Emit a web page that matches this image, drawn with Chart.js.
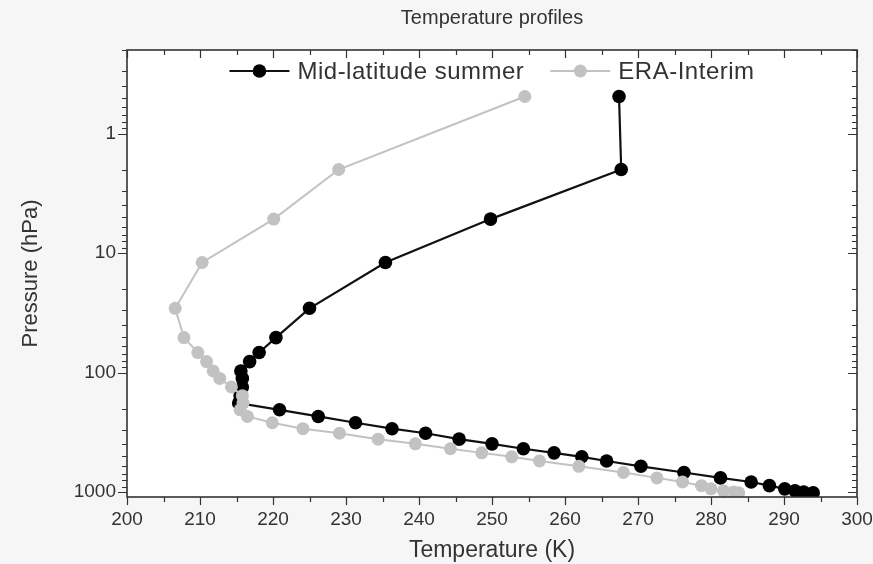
<!DOCTYPE html>
<html>
<head>
<meta charset="utf-8">
<script src="https://cdn.jsdelivr.net/npm/chart.js@4/dist/chart.umd.min.js"></script>
<style>
  html, body { margin: 0; padding: 0; background: #f6f6f6; }
</style>
</head>
<body>
<canvas id="profileChart" width="873" height="564"></canvas>
<script>
// pressure levels (hPa), shared by both profiles
const pressureLevels = [0.49, 2, 5.2, 12, 29, 51, 68, 81, 97, 112, 132, 156, 180, 205, 233, 263, 295, 322, 361, 395,
                        434, 470, 507, 550, 609, 686, 761, 824, 884, 940, 975, 998, 1013];

// temperature (K)
const midLatSummer = [267.4, 267.7, 249.8, 235.4, 225.0, 220.4, 218.1, 216.8, 215.6, 215.8, 215.8, 215.5, 215.3, 220.9,
                      226.2, 231.3, 236.3, 240.9, 245.5, 250.0, 254.3, 258.5, 262.3, 265.7, 270.4, 276.3, 281.3, 285.5,
                      288.0, 290.1, 291.5, 292.7, 294.0];
const eraInterim   = [254.5, 229.0, 220.1, 210.3, 206.6, 207.8, 209.7, 210.9, 211.8, 212.7, 214.3, 215.8, 215.9, 215.5,
                      216.5, 219.9, 224.1, 229.1, 234.4, 239.5, 244.3, 248.6, 252.7, 256.5, 261.9, 268.0, 272.6, 276.1,
                      278.7, 280.0, 281.7, 283.1, 283.8];

const tempTicks     = [200, 210, 220, 230, 240, 250, 260, 270, 280, 290, 300];
const pressureTicks = [1, 10, 100, 1000];

const FONT = '"Liberation Sans", Arial, sans-serif';
const TEXT = '#333';

const toPoints = (temps) => pressureLevels.map((p, i) => ({ x: temps[i], y: p }));

// white plot area, frame and Origin-style ticks on all four sides
const frameTicks = {
    id: 'frameTicks',
    beforeDraw(chart) {
        const { ctx, chartArea: a } = chart;
        ctx.save();
        ctx.fillStyle = '#ffffff';
        ctx.fillRect(a.left, a.top, a.width, a.height);
        ctx.restore();
    },
    afterDraw(chart) {
        const { ctx, chartArea: a, scales: { x, y } } = chart;
        ctx.save();
        ctx.strokeStyle = '#333';
        ctx.lineWidth = 1.2;
        ctx.beginPath();
        for (let t = x.min; t <= x.max; t += 5) {
            const px = Math.round(x.getPixelForValue(t)) + 0.5;
            const len = t % 10 === 0 ? 8 : 5;
            ctx.moveTo(px, a.bottom); ctx.lineTo(px, a.bottom + len);
            ctx.moveTo(px, a.top);    ctx.lineTo(px, a.top + len);
        }
        for (let d = 0.1; d <= 1000; d *= 10) {
            for (let m = 1; m <= 9; m++) {
                const v = m * d;
                if (v < y.min || v > y.max) continue;
                const py = Math.round(y.getPixelForValue(v)) + 0.5;
                const len = m === 1 ? 9 : 5;
                ctx.moveTo(a.left - len, py);  ctx.lineTo(a.left, py);
                ctx.moveTo(a.right - len, py); ctx.lineTo(a.right, py);
            }
        }
        ctx.stroke();
        ctx.lineWidth = 1.6;
        ctx.strokeRect(a.left, a.top, a.width, a.height);
        ctx.restore();
    }
};

// legend drawn inside the plot, line + marker symbol
const insideLegend = {
    id: 'insideLegend',
    afterDraw(chart) {
        const { ctx, chartArea: a } = chart;
        const lineLen = 60, textGap = 8, itemGap = 26;
        ctx.save();
        ctx.font = '24px ' + FONT;
        ctx.letterSpacing = '0.5px';
        const items = chart.data.datasets.map(ds => ({ ds, w: ctx.measureText(ds.label).width }));
        const total = items.reduce((s, it) => s + lineLen + textGap + it.w, 0) + itemGap * (items.length - 1);
        let cx = (a.left + a.right) / 2 - total / 2;
        const cy = a.top + 21;
        items.forEach(({ ds, w }) => {
            ctx.strokeStyle = ds.borderColor;
            ctx.lineWidth = ds.borderWidth;
            ctx.beginPath();
            ctx.moveTo(cx, cy); ctx.lineTo(cx + lineLen, cy);
            ctx.stroke();
            ctx.fillStyle = ds.pointBackgroundColor;
            ctx.beginPath();
            ctx.arc(cx + lineLen / 2, cy, ds.pointRadius, 0, Math.PI * 2);
            ctx.fill();
            ctx.fillStyle = TEXT;
            ctx.textBaseline = 'middle';
            ctx.fillText(ds.label, cx + lineLen + textGap, cy + 1);
            cx += lineLen + textGap + w + itemGap;
        });
        ctx.restore();
    }
};

new Chart(document.getElementById('profileChart'), {
    type: 'scatter',
    data: {
        datasets: [
            {
                label: 'Mid-latitude summer',
                data: toPoints(midLatSummer),
                showLine: true,
                borderColor: '#111',
                borderWidth: 2.2,
                pointRadius: 6.8,
                pointBackgroundColor: '#000',
                pointBorderColor: '#000',
                pointBorderWidth: 0,
                order: 1,
            },
            {
                label: 'ERA-Interim',
                data: toPoints(eraInterim),
                showLine: true,
                borderColor: '#c2c2c2',
                borderWidth: 2,
                pointRadius: 6.5,
                pointBackgroundColor: '#c2c2c2',
                pointBorderColor: '#c2c2c2',
                pointBorderWidth: 0,
                order: 0,
            },
        ],
    },
    options: {
        responsive: false,
        animation: false,
        layout: { padding: { left: 0, right: 16, top: 0, bottom: 0 } },
        plugins: {
            legend: { display: false },
            tooltip: { enabled: false },
            title: {
                display: true,
                text: 'Temperature profiles',
                fullSize: false,
                color: TEXT,
                font: { family: FONT, size: 20, weight: 'normal' },
                padding: { top: 6, bottom: 20 },
            },
        },
        scales: {
            x: {
                type: 'linear',
                min: 200,
                max: 300,
                afterBuildTicks: (s) => { s.ticks = tempTicks.map(v => ({ value: v })); },
                afterFit: (s) => { s.height = 67; s.paddingLeft = 0; s.paddingRight = 0; },
                grid: { display: false, drawTicks: false },
                border: { display: false },
                ticks: { color: TEXT, padding: 11, font: { family: FONT, size: 19 } },
                title: {
                    display: true,
                    text: 'Temperature (K)',
                    color: TEXT,
                    font: { family: FONT, size: 23 },
                    padding: { top: 6, bottom: 0 },
                },
            },
            y: {
                type: 'logarithmic',
                reverse: true,
                min: 0.2,
                max: 1100,
                afterBuildTicks: (s) => { s.ticks = pressureTicks.map(v => ({ value: v })); },
                afterFit: (s) => { s.width = 127; },
                grid: { display: false, drawTicks: false },
                border: { display: false },
                ticks: { color: TEXT, padding: 11, font: { family: FONT, size: 19 }, callback: (v) => String(v) },
                title: {
                    display: true,
                    text: 'Pressure (hPa)',
                    color: TEXT,
                    font: { family: FONT, size: 22 },
                    padding: { top: 18, bottom: 0 },
                },
            },
        },
    },
    plugins: [frameTicks, insideLegend],
});
</script>
</body>
</html>
